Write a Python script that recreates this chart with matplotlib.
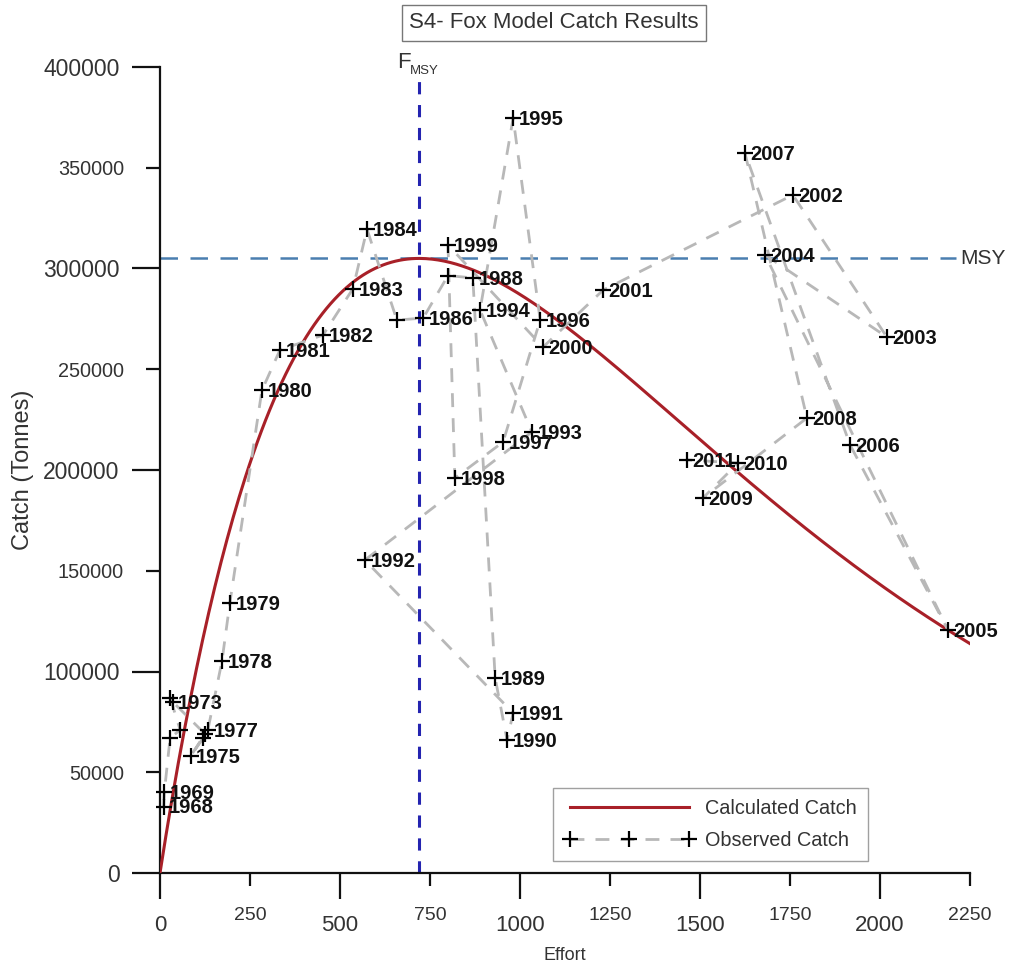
import numpy as np
import matplotlib
matplotlib.use("Agg")
import matplotlib.pyplot as plt
from matplotlib.ticker import FixedLocator, FixedFormatter

plt.rcParams['font.family'] = ['Liberation Sans', 'DejaVu Sans']

# ---- data ----
years = list(range(1968, 2012))
effort = [10, 12, 28, 56, 28, 35, 125, 85, 120, 133, 172, 194, 283, 333, 453,
          536, 575, 658, 731, 800, 869, 931, 964, 981, 569, 1033, 889, 981,
          1056, 953, 819, 800, 1064, 1231, 1758, 2019, 1681, 2189, 1917, 1625,
          1797, 1508, 1606, 1464]
catch = [33000, 40000, 67000, 71000, 87000, 85000, 69000, 58000, 67000, 71000,
         105000, 134000, 239500, 259500, 267000, 290000, 319500, 274400, 275400,
         296500, 295300, 96800, 66000, 79400, 155300, 218900, 279400, 374700,
         274400, 213900, 196000, 311700, 261000, 289300, 336500, 266000, 306700,
         120600, 212400, 357300, 225800, 186100, 203500, 205000]
labelled = [1968, 1969, 1973, 1975, 1977, 1978, 1979, 1980, 1981, 1982, 1983,
            1984, 1986, 1988, 1989, 1990, 1991, 1992, 1993, 1994, 1995, 1996,
            1997, 1998, 1999, 2000, 2001, 2002, 2003, 2004, 2005, 2006, 2007,
            2008, 2009, 2010, 2011]

MSY = 305000
FMSY = 720
E_MAX = 2250

x_major = [0, 500, 1000, 1500, 2000]
x_minor = [250, 750, 1250, 1750, 2250]
y_major = [0, 100000, 200000, 300000, 400000]
y_minor = [50000, 150000, 250000, 350000]

# ---- figure ----
W, H = 1014, 968
fig = plt.figure(figsize=(W / 100, H / 100), dpi=100)
ax = fig.add_axes([160 / W, (H - 873) / H, 810 / W, (873 - 67) / H])

# Fox model curve
E = np.linspace(0, E_MAX, 400)
C = MSY * (E / FMSY) * np.exp(1 - E / FMSY)
ax.plot(E, C, color='#a82028', lw=2.2, zorder=3, label='Calculated Catch')

# Observed
ax.plot(effort, catch, color='#b8b8b8', lw=2, ls=(0, (5, 4)), marker='+',
        mec='black', mew=1.6, ms=11, zorder=4, clip_on=False,
        label='Observed Catch')

for yr, e, c in zip(years, effort, catch):
    if yr in labelled:
        ax.annotate(str(yr), (e, c), xytext=(4, -1), textcoords='offset points',
                    ha='left', va='center', fontsize=14.5, fontweight='bold',
                    color='#111111', zorder=5)

# reference lines
ax.plot([FMSY, FMSY], [0, 394000], color='#2424b0', lw=2.2, ls=(0, (4, 3.5)),
        zorder=2, clip_on=False)
ax.plot([0, 2210], [MSY, MSY], color='#4a7eb0', lw=1.8, ls=(0, (7, 5)), zorder=2,
        clip_on=False)
ax.text(2222, MSY, 'MSY', ha='left', va='center', fontsize=15, color='#333333')
ax.text(FMSY - 60, 402000, 'F', ha='left', va='center', fontsize=16, color='#333333')
ax.text(FMSY - 25, 398000, 'MSY', ha='left', va='center', fontsize=9.5, color='#333333')

ax.set_xlim(0, E_MAX)
ax.set_ylim(0, 400000)
for s in ['top', 'right']:
    ax.spines[s].set_visible(False)
for s in ['left', 'bottom']:
    ax.spines[s].set_linewidth(1.6)
    ax.spines[s].set_color('#111111')

ax.xaxis.set_major_locator(FixedLocator(x_major))
ax.xaxis.set_minor_locator(FixedLocator(x_minor))
ax.xaxis.set_major_formatter(FixedFormatter([str(v) for v in x_major]))
ax.xaxis.set_minor_formatter(FixedFormatter([str(v) for v in x_minor]))
ax.yaxis.set_major_locator(FixedLocator(y_major))
ax.yaxis.set_minor_locator(FixedLocator(y_minor))
ax.yaxis.set_major_formatter(FixedFormatter([str(v) for v in y_major]))
ax.yaxis.set_minor_formatter(FixedFormatter([str(v) for v in y_minor]))

ax.tick_params(axis='x', which='major', direction='out', length=19, width=1.6,
               labelsize=16, pad=11, labelcolor='#333333', color='#111111')
ax.tick_params(axis='x', which='minor', direction='out', length=9.5, width=1.6,
               labelsize=14, pad=15, labelcolor='#333333', color='#111111')
ax.tick_params(axis='y', which='major', direction='out', length=20, width=1.6,
               labelsize=16.5, pad=9, labelcolor='#333333', color='#111111')
ax.tick_params(axis='y', which='minor', direction='out', length=10, width=1.6,
               labelsize=14.3, pad=16, labelcolor='#333333', color='#111111')

ax.set_xlabel('Effort', fontsize=13, color='#333333', labelpad=8)
ax.set_ylabel('Catch (Tonnes)', fontsize=17, color='#333333', labelpad=7)

leg = ax.legend(loc='upper left', bbox_to_anchor=(553 / W, 1 - 788 / H),
                bbox_transform=fig.transFigure, fontsize=14.3, numpoints=3,
                handlelength=6.6, handletextpad=0.5, frameon=True,
                fancybox=False, borderaxespad=0, borderpad=0.55,
                labelspacing=0.65, labelcolor='#333333')
leg.get_frame().set_edgecolor('#888888')
leg.get_frame().set_linewidth(1)

fig.text(554 / W, 1 - 23 / H, 'S4- Fox Model Catch Results', ha='center',
         va='center', fontsize=16, color='#333333',
         bbox=dict(boxstyle='square,pad=0.32', fc='white', ec='#777777', lw=1))

fig.savefig('out.png', dpi=100)
